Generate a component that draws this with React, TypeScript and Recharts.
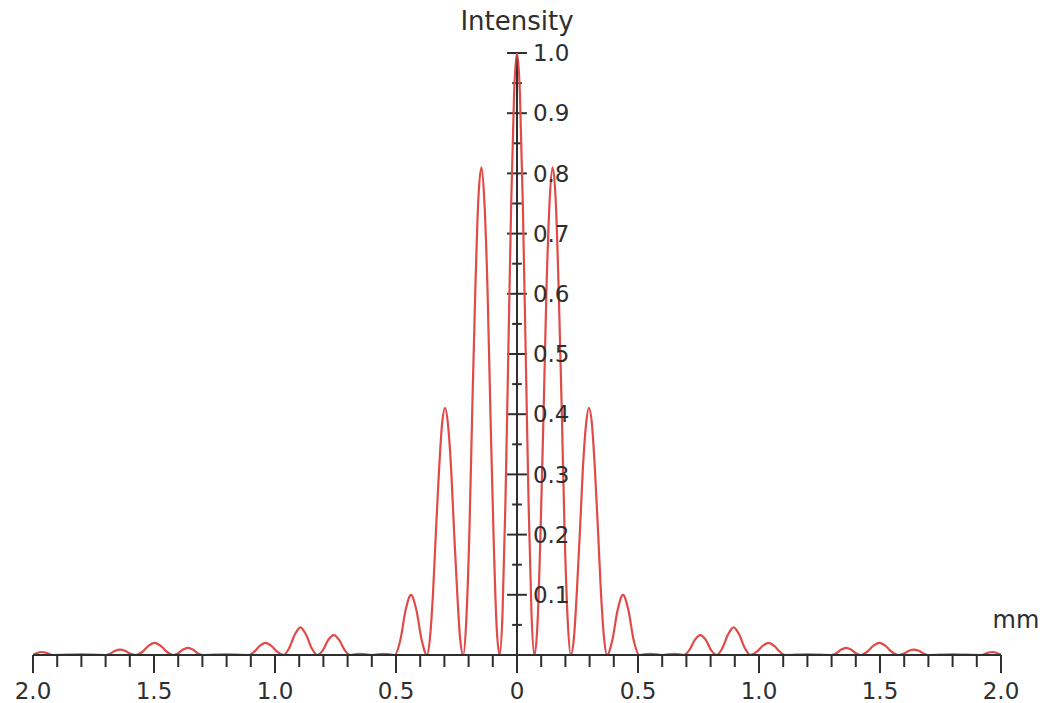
import React from 'react';
import { LineChart, Line, XAxis, YAxis, ReferenceLine } from 'recharts';

// position along the screen (mm)
const positionMm = [
  -2.0, -1.985, -1.965, -1.94, -1.92, -1.8, -1.7, -1.68, -1.66, -1.64, -1.62, -1.6,
  -1.575, -1.549, -1.523, -1.497, -1.472, -1.446, -1.42, -1.4, -1.38, -1.36, -1.34, -1.32,
  -1.3, -1.2, -1.11, -1.087, -1.063, -1.04, -1.015, -0.99, -0.965, -0.942, -0.918, -0.895,
  -0.872, -0.848, -0.825, -0.802, -0.78, -0.757, -0.735, -0.712, -0.69, -0.65, -0.6, -0.55,
  -0.505, -0.482, -0.46, -0.438, -0.416, -0.394, -0.372, -0.36, -0.347, -0.335, -0.322, -0.31,
  -0.297, -0.285, -0.272, -0.26, -0.247, -0.235, -0.222, -0.21, -0.197, -0.185, -0.172, -0.16,
  -0.147, -0.135, -0.122, -0.11, -0.097, -0.085, -0.072, -0.06, -0.048, -0.036, -0.024, -0.012,
  0,
  0.012, 0.024, 0.036, 0.048, 0.06, 0.072, 0.085, 0.097, 0.11, 0.122, 0.135, 0.147,
  0.16, 0.172, 0.185, 0.197, 0.21, 0.222, 0.235, 0.247, 0.26, 0.272, 0.285, 0.297,
  0.31, 0.322, 0.335, 0.347, 0.36, 0.372, 0.394, 0.416, 0.438, 0.46, 0.482, 0.505,
  0.55, 0.6, 0.65, 0.69, 0.712, 0.735, 0.757, 0.78, 0.802, 0.825, 0.848, 0.872,
  0.895, 0.918, 0.942, 0.965, 0.99, 1.015, 1.04, 1.063, 1.087, 1.11, 1.2, 1.3,
  1.32, 1.34, 1.36, 1.38, 1.4, 1.42, 1.446, 1.472, 1.497, 1.523, 1.549, 1.575,
  1.6, 1.62, 1.64, 1.66, 1.68, 1.7, 1.8, 1.92, 1.94, 1.965, 1.985, 2.0,
];

// relative intensity at each position
const intensity = [
  0, 0.003, 0.005, 0.003, 0, 0.001, 0, 0.0025, 0.007, 0.009, 0.007, 0.0025,
  0, 0.005, 0.015, 0.02, 0.015, 0.005, 0, 0.003, 0.009, 0.012, 0.009, 0.003,
  0, 0.001, 0, 0.005, 0.015, 0.02, 0.015, 0.005, 0, 0.011, 0.034, 0.046,
  0.034, 0.011, 0, 0.008, 0.025, 0.033, 0.025, 0.008, 0, 0.002, 0, 0.002,
  0, 0.025, 0.075, 0.1, 0.075, 0.025, 0, 0.027, 0.103, 0.205, 0.308, 0.382,
  0.41, 0.382, 0.308, 0.205, 0.103, 0.027, 0, 0.054, 0.2, 0.405, 0.61, 0.755,
  0.81, 0.755, 0.61, 0.405, 0.2, 0.054, 0, 0.067, 0.25, 0.5, 0.75, 0.933,
  1.0,
  0.933, 0.75, 0.5, 0.25, 0.067, 0, 0.054, 0.2, 0.405, 0.61, 0.755, 0.81,
  0.755, 0.61, 0.405, 0.2, 0.054, 0, 0.027, 0.103, 0.205, 0.308, 0.382, 0.41,
  0.382, 0.308, 0.205, 0.103, 0.027, 0, 0.025, 0.075, 0.1, 0.075, 0.025, 0,
  0.002, 0, 0.002, 0, 0.008, 0.025, 0.033, 0.025, 0.008, 0, 0.011, 0.034,
  0.046, 0.034, 0.011, 0, 0.005, 0.015, 0.02, 0.015, 0.005, 0, 0.001, 0,
  0.003, 0.009, 0.012, 0.009, 0.003, 0, 0.005, 0.015, 0.02, 0.015, 0.005, 0,
  0.0025, 0.007, 0.009, 0.007, 0.0025, 0, 0.001, 0, 0.003, 0.005, 0.003, 0,
];

const xTicks = [
  -2, -1.9, -1.8, -1.7, -1.6, -1.5, -1.4, -1.3, -1.2, -1.1, -1, -0.9, -0.8, -0.7,
  -0.6, -0.5, -0.4, -0.3, -0.2, -0.1, 0, 0.1, 0.2, 0.3, 0.4, 0.5, 0.6, 0.7, 0.8,
  0.9, 1, 1.1, 1.2, 1.3, 1.4, 1.5, 1.6, 1.7, 1.8, 1.9, 2,
];
const xMajorTicks = [-2, -1.5, -1, -0.5, 0, 0.5, 1, 1.5, 2];
const xMajorLabels = ['2.0', '1.5', '1.0', '0.5', '0', '0.5', '1.0', '1.5', '2.0'];

const yMajorTicks = [0.1, 0.2, 0.3, 0.4, 0.5, 0.6, 0.7, 0.8, 0.9, 1.0];
const yMajorLabels = ['0.1', '0.2', '0.3', '0.4', '0.5', '0.6', '0.7', '0.8', '0.9', '1.0'];
const yMinorTicks = [0.05, 0.15, 0.25, 0.35, 0.45, 0.55, 0.65, 0.75, 0.85, 0.95];

const data = positionMm.map((x, i) => ({ x, y: intensity[i] }));

const FONT = '"DejaVu Sans", Arial, sans-serif';
const INK = '#2e2e2e';
const RED = '#e04a47';

function XTick(props: any) {
  const { x, y, payload } = props;
  const v = payload.value;
  const idx = xMajorTicks.findIndex((m) => Math.abs(m - v) < 1e-6);
  const major = idx >= 0;
  return (
    <g>
      <line x1={x} x2={x} y1={y} y2={y + (major ? 18 : 12)} stroke={INK} strokeWidth={2} />
      {major && (
        <text x={x} y={y + 44} textAnchor="middle" fontFamily={FONT} fontSize={23} fill={INK}>
          {xMajorLabels[idx]}
        </text>
      )}
    </g>
  );
}

function MmLabel(props: any) {
  const vb = props.viewBox || { x: 0, y: 0, width: 0 };
  return (
    <text x={vb.x + vb.width + 15} y={vb.y - 27} textAnchor="middle" fontFamily={FONT} fontSize={24} fill={INK}>
      mm
    </text>
  );
}

export default function App() {
  const majorHalf = 0.041;
  const minorHalf = 0.02;
  return (
    <div style={{ position: 'absolute', left: 0, top: 0, width: 1043, height: 703, background: '#fff' }}>
      <LineChart width={1043} height={703} data={data} margin={{ top: 53, right: 42, left: 33, bottom: 0 }}>
        <XAxis
          dataKey="x"
          type="number"
          domain={[-2, 2]}
          allowDataOverflow
          ticks={xTicks}
          interval={0}
          tick={<XTick />}
          tickLine={false}
          tickSize={0}
          tickMargin={0}
          axisLine={{ stroke: INK, strokeWidth: 2 }}
          height={48}
        />
        <YAxis type="number" domain={[0, 1]} allowDataOverflow hide />
        <ReferenceLine
          x={0}
          stroke={INK}
          strokeWidth={2}
          label={{ value: 'Intensity', position: 'top', offset: 23, fill: INK, fontSize: 26, fontFamily: FONT }}
        />
        <ReferenceLine y={0} stroke={INK} strokeWidth={2} label={<MmLabel />} />
        {yMinorTicks.map((v) => (
          <ReferenceLine
            key={'mn' + v}
            segment={[{ x: -minorHalf, y: v }, { x: minorHalf, y: v }]}
            stroke={INK}
            strokeWidth={2}
          />
        ))}
        {yMajorTicks.map((v, i) => (
          <ReferenceLine
            key={'mj' + v}
            segment={[{ x: -majorHalf, y: v }, { x: majorHalf, y: v }]}
            stroke={INK}
            strokeWidth={2}
            label={{ value: yMajorLabels[i], position: 'right', offset: 6, fill: INK, fontSize: 23, fontFamily: FONT }}
          />
        ))}
        <Line
          dataKey="y"
          type="monotone"
          stroke={RED}
          strokeWidth={2.2}
          dot={false}
          isAnimationActive={false}
        />
      </LineChart>
    </div>
  );
}
